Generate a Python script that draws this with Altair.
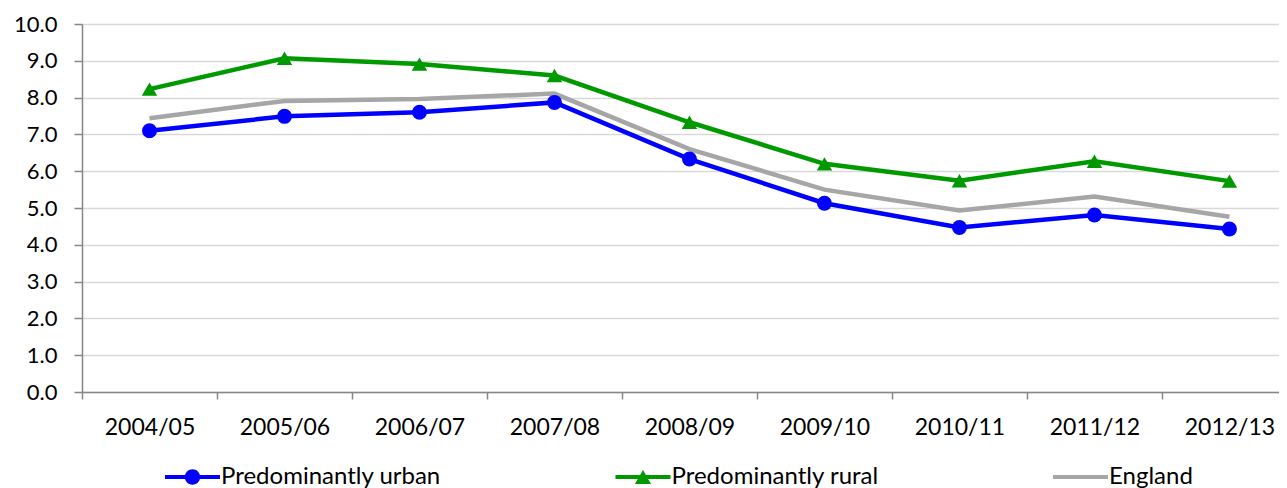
import json
import altair as alt
import pandas as pd

# ---- data ----
periods = ["2004/05", "2005/06", "2006/07", "2007/08", "2008/09",
           "2009/10", "2010/11", "2011/12", "2012/13"]
urban = [7.10, 7.49, 7.60, 7.87, 6.33, 5.13, 4.47, 4.81, 4.43]
rural = [8.23, 9.07, 8.91, 8.60, 7.33, 6.20, 5.74, 6.27, 5.73]
england = [7.44, 7.91, 7.96, 8.11, 6.60, 5.50, 4.93, 5.31, 4.76]
series_names = ["Predominantly urban", "Predominantly rural", "England"]
series_values = [urban, rural, england]
series_colors = ["#0000FF", "#009900", "#A6A6A6"]
y_ticks = [0, 1, 2, 3, 4, 5, 6, 7, 8, 9, 10]

rows = []
for name, vals in zip(series_names, series_values):
    for i, (p, v) in enumerate(zip(periods, vals)):
        rows.append({"series": name, "period": p, "idx": i, "value": v})
df = pd.DataFrame(rows)
colour_of = dict(zip(series_names, series_colors))

FONT = "Lato"

# legend symbols: line + marker combined into one filled path (unit r = 7px)
leg_urban = ("M-3.93,-0.3H3.93V0.3H-3.93Z "
             "M-1.1,0A1.1,1.1 0 1 1 1.1,0A1.1,1.1 0 1 1 -1.1,0Z")
leg_rural = ("M-3.93,-0.3H3.93V0.3H-3.93Z "
             "M0,-1.0L1.15,1.0L-1.15,1.0Z")
leg_england = "M-3.93,-0.3H3.93V0.3H-3.93Z"

x_enc = alt.X(
    "idx:Q",
    scale=alt.Scale(domain=[-0.5, 8.367], nice=False, zero=False),
    axis=alt.Axis(
        title=None,
        values=[i - 0.5 for i in range(len(periods))],
        labelExpr=json.dumps(periods) + "[round(datum.value + 0.5)]",
        labelOffset=67.5,
        labelAlign="center",
        labelFlush=False,
        labelOverlap=False,
        labelBound=False,
        grid=False,
        ticks=True,
        tickSize=7,
        tickColor="#868686",
        tickWidth=1.5,
        domainColor="#868686",
        domainWidth=1.5,
        labelPadding=17,
        labelFont=FONT,
        labelFontSize=23,
        labelColor="#000000",
    ),
)
y_enc = alt.Y(
    "value:Q",
    scale=alt.Scale(domain=[0, 10], nice=False),
    axis=alt.Axis(
        title=None,
        values=y_ticks,
        format=".1f",
        grid=True,
        gridColor="#D9D9D9",
        gridWidth=1.3,
        tickSize=8,
        tickColor="#868686",
        tickWidth=1.5,
        domainColor="#868686",
        domainWidth=1.5,
        labelPadding=17,
        labelFont=FONT,
        labelFontSize=22,
        labelColor="#000000",
    ),
)

base = alt.Chart(df)

legend = alt.Legend(
    title=None,
    orient="none",
    legendX=98.5,
    legendY=441,
    direction="horizontal",
    columns=3,
    columnPadding=173.5,
    gridAlign="each",
    symbolSize=196,
    symbolStrokeWidth=0,
    symbolOpacity=1,
    labelOffset=16.5,
    labelFont=FONT,
    labelFontSize=24,
    labelColor="#000000",
    labelLimit=400,
    padding=0,
)

# invisible layer that only carries the legend
legend_layer = base.mark_point(filled=True, opacity=0).encode(
    x=x_enc, y=y_enc,
    color=alt.Color("series:N",
                    scale=alt.Scale(domain=series_names, range=series_colors),
                    legend=legend),
    shape=alt.Shape("series:N",
                    scale=alt.Scale(domain=series_names,
                                    range=[leg_urban, leg_rural, leg_england]),
                    legend=legend),
)


def line_layer(name):
    return base.transform_filter(alt.datum.series == name).mark_line(
        strokeWidth=4.5, color=colour_of[name]
    ).encode(x=x_enc, y=y_enc)


lines = [line_layer("England"), line_layer("Predominantly urban"),
         line_layer("Predominantly rural")]

urban_pts = base.transform_filter(alt.datum.series == "Predominantly urban").mark_point(
    shape="circle", filled=True, size=225, opacity=1,
    color=colour_of["Predominantly urban"]
).encode(x=x_enc, y=y_enc)

rural_pts = base.transform_filter(alt.datum.series == "Predominantly rural").mark_point(
    shape="triangle-up", filled=True, size=240, opacity=1,
    color=colour_of["Predominantly rural"]
).encode(x=x_enc, y=y_enc)

chart = alt.layer(legend_layer, *lines, urban_pts, rural_pts).properties(
    width=1197,
    height=368,
    padding={"left": 5, "top": 5, "right": 0, "bottom": 0},
    background="#FFFFFF",
).configure_view(strokeWidth=0)

chart.save("out.html", embed_options={"renderer": "svg", "actions": False})
